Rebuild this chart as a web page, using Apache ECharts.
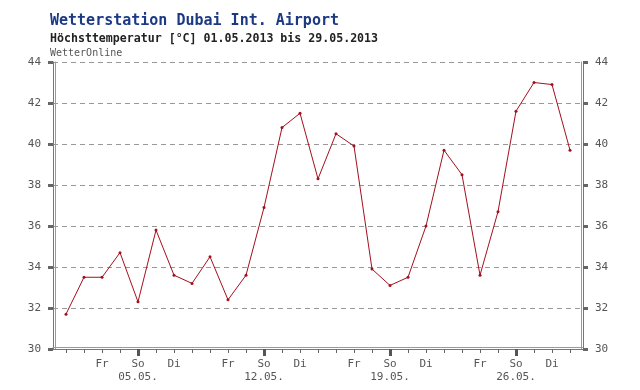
<!DOCTYPE html>
<html>
<head>
<meta charset="utf-8">
<script src="https://cdn.jsdelivr.net/npm/echarts@6/dist/echarts.min.js"></script>
<style>
html,body{margin:0;padding:0;background:#fff;}
#chart{width:640px;height:390px;}
</style>
</head>
<body>
<div id="chart"></div>
<script>
// ---- data ----
const DAYS = [1,2,3,4,5,6,7,8,9,10,11,12,13,14,15,16,17,18,19,20,21,22,23,24,25,26,27,28,29];
const TEMPS = [31.7,33.5,33.5,34.7,32.3,35.8,33.6,33.2,34.5,32.4,33.6,36.9,40.8,41.5,38.3,40.5,39.9,33.9,33.1,33.5,36.0,39.7,38.5,33.6,36.7,41.6,43.0,42.9,39.7];
const LABEL_DAYS = [3,5,7,10,12,14,17,19,21,24,26,28];
const LABEL_TEXTS = ['Fr','So\n05.05.','Di','Fr','So\n12.05.','Di','Fr','So\n19.05.','Di','Fr','So\n26.05.','Di'];
const SUNDAYS = [5,12,19,26];
const Y_MIN = 30, Y_MAX = 44, Y_STEP = 2;
const TITLE = 'Wetterstation Dubai Int. Airport';
const SUBTITLE = 'Höchsttemperatur [°C] 01.05.2013 bis 29.05.2013';
const SOURCE = 'WetterOnline';

const MONO = '"DejaVu Sans Mono", "Liberation Mono", monospace';
const X_MIN = 1 - 13/18, X_MAX = 29 + 13/18;
const frameColor = '#777';

const labelMap = {};
LABEL_DAYS.forEach((d, i) => labelMap[d] = LABEL_TEXTS[i]);

const chart = echarts.init(document.getElementById('chart'), null, {renderer: 'canvas'});

function yAxisBase(pos, extra) {
  return Object.assign({
    type: 'value', position: pos, min: Y_MIN, max: Y_MAX, interval: Y_STEP,
    axisLine: {show: true, lineStyle: {color: frameColor, width: 1}},
    axisTick: {show: true, length: 5, lineStyle: {color: '#666', width: 3}},
    axisLabel: {show: true, margin: 12, color: '#555', fontSize: 11, fontFamily: MONO},
    splitLine: {show: false}
  }, extra);
}

const option = {
  animation: false,
  backgroundColor: '#fff',
  title: [
    {text: TITLE, left: 50, top: 14, padding: 0,
     textStyle: {fontFamily: MONO, fontSize: 15, fontWeight: 'bold', color: '#1c3a84'}},
    {text: SUBTITLE, left: 50, top: 33, padding: 0,
     textStyle: {fontFamily: MONO, fontSize: 11.6, fontWeight: 'bold', color: '#222'}},
    {text: SOURCE, left: 50, top: 48, padding: 0,
     textStyle: {fontFamily: MONO, fontSize: 10, fontWeight: 'normal', color: '#555'}}
  ],
  grid: {left: 53, right: 57, top: 62, bottom: 41, containLabel: false},
  xAxis: [
    {type: 'value', position: 'bottom', min: X_MIN, max: X_MAX,
     axisLine: {show: true, onZero: false, lineStyle: {color: frameColor, width: 1}},
     axisTick: {show: true, customValues: DAYS, length: 4, lineStyle: {color: '#666', width: 1}},
     axisLabel: {show: true, customValues: LABEL_DAYS, margin: 9, color: '#555', fontSize: 11,
                 fontFamily: MONO, lineHeight: 13,
                 formatter: v => labelMap[Math.round(v)] || ''},
     splitLine: {show: false}},
    {type: 'value', position: 'bottom', min: X_MIN, max: X_MAX,
     axisLine: {show: false, onZero: false},
     axisTick: {show: true, customValues: SUNDAYS, length: 7, lineStyle: {color: '#555', width: 3}},
     axisLabel: {show: false}, splitLine: {show: false}},
    {type: 'value', position: 'bottom', offset: -2, min: X_MIN, max: X_MAX,
     axisLine: {show: true, onZero: false, lineStyle: {color: '#999', width: 1}},
     axisTick: {show: false}, axisLabel: {show: false}, splitLine: {show: false}}
  ],
  yAxis: [
    yAxisBase('left', {splitLine: {show: true, lineStyle: {color: '#999', type: [5, 4], width: 1}}}),
    yAxisBase('right', {}),
    {type: 'value', position: 'left', offset: -2, min: Y_MIN, max: Y_MAX,
     axisLine: {show: true, onZero: false, lineStyle: {color: '#999', width: 1}},
     axisTick: {show: false}, axisLabel: {show: false}, splitLine: {show: false}},
    {type: 'value', position: 'right', offset: -2, min: Y_MIN, max: Y_MAX,
     axisLine: {show: true, onZero: false, lineStyle: {color: '#999', width: 1}},
     axisTick: {show: false}, axisLabel: {show: false}, splitLine: {show: false}}
  ],
  series: [{
    type: 'line',
    xAxisIndex: 0, yAxisIndex: 0,
    data: DAYS.map((d, i) => [d, TEMPS[i]]),
    symbol: 'circle', symbolSize: 3, showSymbol: true,
    lineStyle: {color: '#a3101e', width: 1},
    itemStyle: {color: '#a3101e'},
    z: 5
  }]
};
chart.setOption(option);
</script>
</body>
</html>
